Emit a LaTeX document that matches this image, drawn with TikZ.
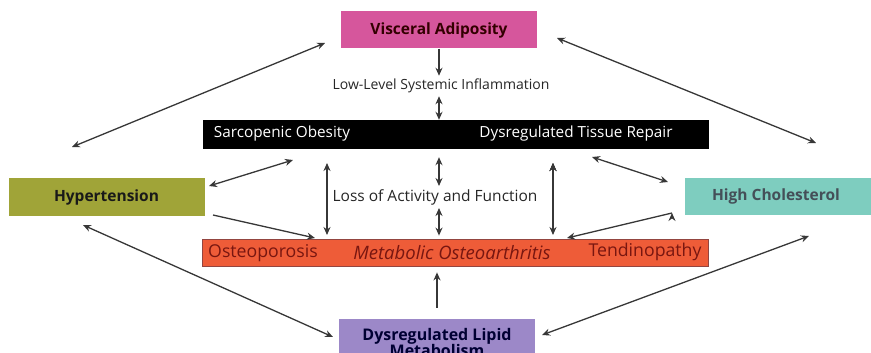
\documentclass[tikz,border=0pt]{standalone}
\usepackage{fontspec}
\setmainfont{Open Sans}
\usetikzlibrary{arrows.meta}

\definecolor{visccol}{RGB}{214,86,156}
\definecolor{hypcol}{RGB}{160,164,56}
\definecolor{cholcol}{RGB}{126,205,191}
\definecolor{orthocol}{RGB}{238,92,56}
\definecolor{lipcol}{RGB}{156,136,200}
\definecolor{linkgray}{RGB}{55,55,55}
\definecolor{orthotext}{RGB}{120,22,16}

\begin{document}
\begin{tikzpicture}[x=1pt,y=-1pt,>={Stealth[length=8pt,width=7pt]},
                    link/.style={draw=linkgray,line width=1.3pt},
                    box node/.style={rectangle,inner sep=0pt,minimum width=196pt,minimum height=37pt,
                                     font=\fontsize{15.5}{17}\selectfont\bfseries},
                    bar node/.style={rectangle,inner sep=0pt,minimum width=506pt},
                    label node/.style={inner sep=3pt,text=black!85,font=\fontsize{14}{16}\selectfont},
                    bar text/.style={inner sep=0pt,font=\fontsize{17.7}{19}\selectfont}]

    \useasboundingbox (0,0) rectangle (871,353);
    \clip (0,0) rectangle (871,353);

    % Nodes
    \node[box node,fill=visccol,text=black!80!red] (visc) at (439,30) {Visceral Adiposity};
    \node[label node] (infl) at (441,86) {Low-Level Systemic Inflammation};
    \node[bar node,fill=black,minimum height=29pt] (obes) at (455.5,134.5) {};
    \node[bar text,text=white,font=\fontsize{15.3}{17}\selectfont] (sarc) at (282,134) {Sarcopenic Obesity};
    \node[bar text,text=white,font=\fontsize{15.3}{17}\selectfont] (repair) at (576,134) {Dysregulated Tissue Repair};
    \node[box node,fill=hypcol,minimum height=38pt,text=black!90] (hyp) at (106.5,197) {Hypertension};
    \node[box node,fill=cholcol,minimum width=190pt] (chol) at (780,196.5) {};
    \node[font=\fontsize{15.5}{17}\selectfont\bfseries,text=black!75!cyan] (choltxt) at (776,196.5) {High Cholesterol};
    \node[label node,font=\fontsize{15.5}{17}\selectfont] (loss) at (435,197) {Loss of Activity and Function};
    \node[bar node,fill=orthocol,draw=orthotext!80,line width=0.8pt,minimum height=27pt] (ortho) at (455.5,252.5) {};
    \node[bar text,text=orthotext] (osteo) at (263,253) {Osteoporosis};
    \node[bar text,text=orthotext,font=\fontsize{18.5}{20}\selectfont\itshape] (meta) at (452,253) {Metabolic Osteoarthritis};
    \node[bar text,text=orthotext] (tendo) at (645,252) {Tendinopathy};
    \node[box node,fill=lipcol,minimum height=46pt,align=center,text=black!80!blue,
          font=\fontsize{16}{17}\selectfont\bfseries] (lip) at (437,342)
        {Dysregulated Lipid\\[-1pt]Metabolism};

    % Ends of the links
    \coordinate (viscW) at (325,43);
    \coordinate (hypN) at (72,147);
    \coordinate (viscE) at (557,38);
    \coordinate (cholN) at (816,143);
    \coordinate (hypS) at (83,225);
    \coordinate (lipW) at (333,337);
    \coordinate (cholS) at (809,236);
    \coordinate (lipE) at (542,335);
    \coordinate (hypNE) at (209,186);
    \coordinate (obesSW) at (293,160);
    \coordinate (obesSE) at (592,157);
    \coordinate (cholNW) at (668,182);
    \coordinate (hypSE) at (213,215);
    \coordinate (orthoNW) at (315,238);
    \coordinate (cholSW) at (672,213);
    \coordinate (orthoNE) at (567,238);
    \coordinate (lossLT) at (327,163);
    \coordinate (lossLB) at (327,235);
    \coordinate (lossRT) at (553,163);
    \coordinate (lossRB) at (553,235);

    % Paths
    \path[link,<->]
      (viscW) edge (hypN)
      (viscE) edge (cholN)
      (hypS) edge (lipW)
      (cholS) edge (lipE)
      (hypNE) edge (obesSW)
      (obesSE) edge (cholNW)
      (lossLT) edge (lossLB)
      (lossRT) edge (lossRB);
    \path[link,->]
      (hypSE) edge (orthoNW)
      (cholSW) edge (orthoNE);

    % Centre column
    \draw[link,->] (visc.south) -- (visc.south |- infl.north);
    \draw[link,<->] (visc.south |- infl.south) -- (visc.south |- obes.north);
    \draw[link,<->,shorten <=8pt] (visc.south |- obes.south) -- (visc.south |- loss.north);
    \draw[link,<->,shorten >=3pt] (visc.south |- loss.south) -- (visc.south |- ortho.north);
    \draw[link,->,shorten <=11pt,shorten >=6pt] (lip.north) -- (lip.north |- ortho.south);

  \end{tikzpicture}
\end{document}
